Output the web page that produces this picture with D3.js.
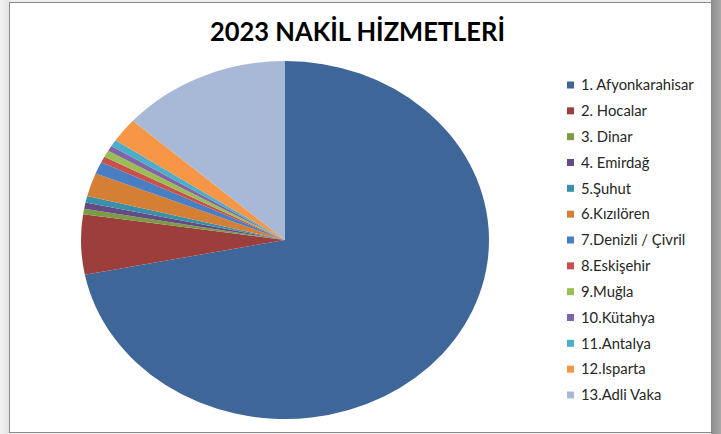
<!DOCTYPE html>
<html>
<head>
<meta charset="utf-8">
<script src="https://cdn.jsdelivr.net/npm/d3@7"></script>
<style>
  html, body { margin: 0; padding: 0; background: #fff; }
  svg { display: block; }
</style>
</head>
<body>
<svg id="chart"></svg>
<script>
// values (share of the pie, %)
var categories = ["1. Afyonkarahisar", "2. Hocalar", "3. Dinar", "4. Emirdağ", "5.Şuhut",
  "6.Kızılören", "7.Denizli / Çivril", "8.Eskişehir", "9.Muğla", "10.Kütahya",
  "11.Antalya", "12.Isparta", "13.Adli Vaka"];
var values = [71.9, 5.4, 0.5, 0.55, 0.6, 2.1, 1.1, 0.55, 0.6, 0.5, 0.6, 2.2, 13.4];
var colors = ["#3e6699", "#9c3e3b", "#7d9a45", "#654b85", "#3a90a8", "#d57f35", "#4a7ec2",
  "#c9504c", "#9bbe54", "#8064a6", "#4baecb", "#f79646", "#a8b9d8"];
var title = "2023 NAKİL HİZMETLERİ";

var width = 721, height = 434;
var rx = 204, ry = 179;
var cx = 285, cy = 240;

var svg = d3.select("#chart").attr("width", width).attr("height", height);

// backdrop: shadow-ish gray strips round the chart frame
var defs = svg.append("defs");
var gl = defs.append("linearGradient").attr("id", "leftShade");
gl.append("stop").attr("offset", "0%").attr("stop-color", "#f2f2f2");
gl.append("stop").attr("offset", "100%").attr("stop-color", "#e2e2e2");
var gr = defs.append("linearGradient").attr("id", "rightShade");
gr.append("stop").attr("offset", "0%").attr("stop-color", "#8c8c8c");
gr.append("stop").attr("offset", "100%").attr("stop-color", "#a8a8a8");

svg.append("rect").attr("width", width).attr("height", height).attr("fill", "#f0f0f0");
svg.append("rect").attr("x", 0).attr("y", 0).attr("width", 10).attr("height", height).attr("fill", "url(#leftShade)");
svg.append("rect").attr("x", 711).attr("y", 0).attr("width", 10).attr("height", height).attr("fill", "url(#rightShade)");

svg.append("rect")
  .attr("x", 9.5).attr("y", 2.5)
  .attr("width", 702).attr("height", 430)
  .attr("fill", "#fff")
  .attr("stroke", "#8a8a8a")
  .attr("stroke-width", 1);

// title
svg.append("text")
  .attr("x", 357.5)
  .attr("y", 41)
  .attr("text-anchor", "middle")
  .attr("textLength", 295)
  .attr("lengthAdjust", "spacingAndGlyphs")
  .style("font-family", "Lato, 'Open Sans', sans-serif")
  .style("font-weight", "bold")
  .style("font-size", "27px")
  .attr("fill", "#000")
  .text(title);

// pie
var data = categories.map(function (c, i) {
  return { name: c, value: values[i], color: colors[i] };
});
var pie = d3.pie().sort(null).value(function (d) { return d.value; });
var arc = d3.arc().innerRadius(0).outerRadius(rx);

var g = svg.append("g")
  .attr("transform", "translate(" + cx + "," + cy + ") scale(1," + (ry / rx) + ")");

g.selectAll("path")
  .data(pie(data))
  .enter()
  .append("path")
  .attr("d", arc)
  .attr("fill", function (d) { return d.data.color; });

// legend
var legendY = d3.scalePoint().domain(categories).range([85, 395]);
var legend = svg.append("g");
var item = legend.selectAll("g")
  .data(data)
  .enter()
  .append("g")
  .attr("transform", function (d) { return "translate(567," + legendY(d.name) + ")"; });

item.append("rect")
  .attr("x", 0).attr("y", -3.5)
  .attr("width", 7).attr("height", 7)
  .attr("fill", function (d) { return d.color; });

item.append("text")
  .attr("x", 14)
  .attr("y", 0)
  .attr("dy", "0.35em")
  .style("font-family", "Lato, 'Open Sans', sans-serif")
  .style("font-size", "14.8px")
  .attr("fill", "#262626")
  .text(function (d) { return d.name; });
</script>
</body>
</html>
